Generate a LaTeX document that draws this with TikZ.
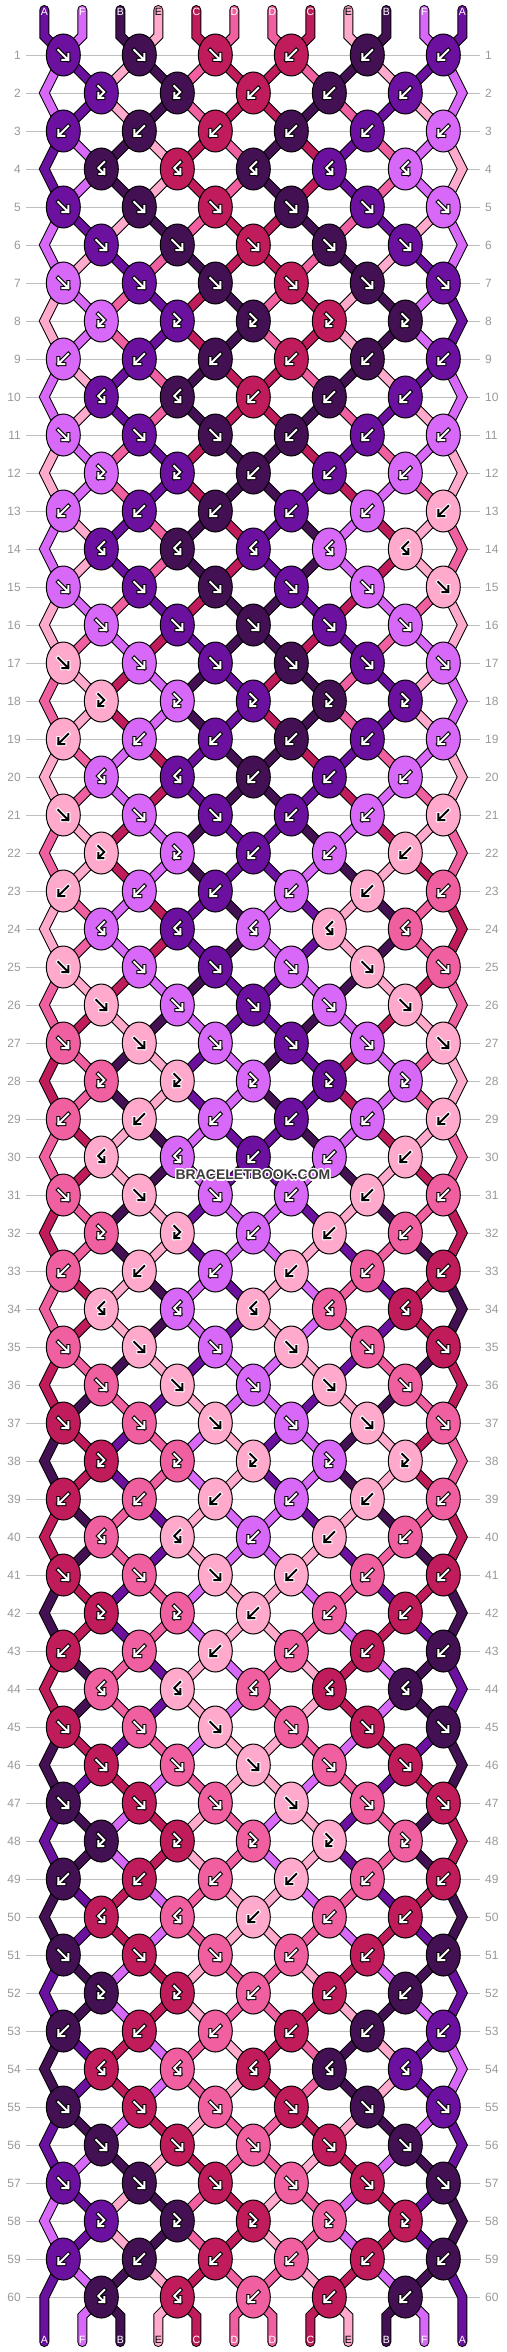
\documentclass[tikz,border=0pt]{standalone}
\usepackage{fontspec}
\setmainfont{Liberation Sans}
\usetikzlibrary{shapes.geometric}
\definecolor{cA}{HTML}{6C10A0}
\definecolor{cB}{HTML}{431153}
\definecolor{cC}{HTML}{C01C5C}
\definecolor{cD}{HTML}{F060A0}
\definecolor{cE}{HTML}{FFAACC}
\definecolor{cF}{HTML}{D868F8}
\definecolor{numgray}{HTML}{999999}
\definecolor{linegray}{HTML}{BEBEBE}
\definecolor{markgray}{HTML}{3C3C3C}

% ---------- simulation of the knots ----------
\newcount\bkR \newcount\bkP \newcount\bkK \newcount\bkT \newcount\bkM
\newcount\bkL \newcount\bkRp \newcount\bkPrev
\def\bkgetS#1#2{\csname bkst#1-#2\endcsname}
\def\bksetS#1#2#3{\expandafter\xdef\csname bkst#1-#2\endcsname{#3}}
\def\bkktype#1#2{\ifcase#1 \ifnum#2<4 F\else B\fi\or\ifnum#2<3 FB\else B\fi\or B\or BF\or F\or F\or F\or FB\or B\or\ifnum#2<3 BF\else B\fi\fi}
\def\bkcopyloop{%
  \bksetS{\the\bkR}{\the\bkP}{\bkgetS{\the\bkPrev}{\the\bkP}}%
  \advance\bkP 1
  \ifnum\bkP<13 \expandafter\bkcopyloop\fi}
\def\bkTF{F}\def\bkTB{B}\def\bkTFB{FB}\def\bkTBF{BF}
\def\bksetK#1{\expandafter\xdef\csname bkkc\the\bkR-\the\bkK\endcsname{#1}}
\def\bkswap{\bksetS{\the\bkR}{\the\bkL}{\bkRc}\bksetS{\the\bkR}{\the\bkRp}{\bkLc}}
\def\bkknotloop{%
  \ifodd\bkR \bkL=\bkK \multiply\bkL 2 \advance\bkL -1 \else \bkL=\bkK \multiply\bkL 2 \fi
  \bkRp=\bkL \advance\bkRp 1
  \edef\bkKt{\bkktype{\the\bkT}{\the\bkK}}%
  \edef\bkLc{\bkgetS{\the\bkR}{\the\bkL}}%
  \edef\bkRc{\bkgetS{\the\bkR}{\the\bkRp}}%
  \ifx\bkKt\bkTF \bksetK{\bkLc}\bkswap\fi
  \ifx\bkKt\bkTB \bksetK{\bkRc}\bkswap\fi
  \ifx\bkKt\bkTFB \bksetK{\bkLc}\fi
  \ifx\bkKt\bkTBF \bksetK{\bkRc}\fi
  \expandafter\xdef\csname bkkt\the\bkR-\the\bkK\endcsname{\bkKt}%
  \advance\bkK 1
  \ifnum\bkK>\bkNK\relax\else\expandafter\bkknotloop\fi}
\def\bkrowloop{%
  \bkPrev=\bkR \advance\bkPrev -1
  \bkP=1 \bkcopyloop
  \bkT=\bkR \advance\bkT -1
  \bkM=\bkT \divide\bkM 10 \multiply\bkM 10 \advance\bkT -\bkM
  \ifodd\bkR \def\bkNK{6}\else\def\bkNK{5}\fi
  \bkK=1 \bkknotloop
  \advance\bkR 1
  \ifnum\bkR<61 \expandafter\bkrowloop\fi}
\bksetS{0}{1}{A}\bksetS{0}{2}{F}\bksetS{0}{3}{B}\bksetS{0}{4}{E}\bksetS{0}{5}{C}\bksetS{0}{6}{D}
\bksetS{0}{7}{D}\bksetS{0}{8}{C}\bksetS{0}{9}{E}\bksetS{0}{10}{B}\bksetS{0}{11}{F}\bksetS{0}{12}{A}
\bkR=1 \bkrowloop

% offset of string p at row r relative to its own column
\def\bklocd#1#2{\ifodd#1 \ifodd#2 1\else -1\fi\else\ifnum#2=1 0\else\ifnum#2=12 0\else\ifodd#2 -1\else 1\fi\fi\fi\fi}

% ---------- icons ----------
\def\bkiconF#1{\draw[#1] (-5,-5) -- (5,5) (-1,5) -- (5,5) -- (5,-1);}
\def\bkiconB#1{\draw[#1] (5,-5) -- (-5,5) (1,5) -- (-5,5) -- (-5,-1);}
\def\bkiconFB#1{\draw[#1] (-3,-7) -- (3,-1) -- (-3,5) (2,5) -- (-3,5) -- (-3,0);}
\def\bkiconBF#1{\draw[#1] (3,-7) -- (-3,-1) -- (3,5) (-2,5) -- (3,5) -- (3,0);}
\def\bkE{E}
\newcommand\bkicon[3]{%
  \edef\bkcl{#2}%
  \ifx\bkcl\bkE \def\bkfg{black}\def\bkbg{white}\else\def\bkfg{white}\def\bkbg{black}\fi
  \begin{scope}[shift={(#3.center)}]
    \csname bkicon#1\endcsname{line width=4pt,color=\bkbg,line cap=rect,line join=miter}
    \csname bkicon#1\endcsname{line width=2pt,color=\bkfg,line cap=rect,line join=miter}
  \end{scope}}

% ---------- strings ----------
\def\bkpass{0}
\newcommand\bkstr[2]{%
  \ifnum\bkpass=0 \draw[line width=10pt,color=black,line cap=round,line join=miter] #2;%
  \else \draw[line width=8pt,color=#1,line cap=round,line join=miter] #2;\fi}
\newcommand\bkallstrings{%
  \foreach \p in {1,...,12}{%
    \edef\bkcc{c\csname bkst0-\p\endcsname}%
    \bkstr{\bkcc}{(T-\p) -- (U-\p) -- (L-1-\p)}}%
  \foreach \rw in {1,...,59}{%
    \pgfmathtruncatemacro\rn{\rw+1}%
    \foreach \p in {2,...,11}{%
      \edef\bkcc{c\csname bkst\rw-\p\endcsname}%
      \bkstr{\bkcc}{(L-\rw-\p) -- (L-\rn-\p)}}}%
  \foreach \rw in {1,3,...,57}{%
    \pgfmathtruncatemacro\rn{\rw+1}\pgfmathtruncatemacro\rnn{\rw+2}%
    \foreach \p in {1,12}{%
      \edef\bkcc{c\csname bkst\rw-\p\endcsname}%
      \bkstr{\bkcc}{(L-\rw-\p) -- (L-\rn-\p) -- (L-\rnn-\p)}}}%
  \foreach \p in {1,12}{%
    \edef\bkcc{c\csname bkst59-\p\endcsname}%
    \bkstr{\bkcc}{(L-59-\p) -- (L-60-\p) -- (W-\p)}}%
  \foreach \p in {2,...,11}{%
    \edef\bkcc{c\csname bkst60-\p\endcsname}%
    \bkstr{\bkcc}{(L-60-\p) -- (V-\p) -- (W-\p)}}%
}

\begin{document}
\begin{tikzpicture}[x=1pt,y=-1pt,
  knot/.style={ellipse,draw=black,line width=1pt,minimum width=34pt,minimum height=42pt,inner sep=0pt},
  rownum/.style={text=numgray,font=\fontsize{12}{12}\selectfont,inner sep=0pt},
  gridline/.style={draw=linegray,line width=0.8pt},
  stublbl/.style={font=\fontsize{10.5}{10.5}\selectfont,inner sep=0pt},
  wm/.style={font=\bfseries\fontsize{14}{14}\selectfont,inner sep=0pt}]
\useasboundingbox (0,0) rectangle (506,2352);
\fill[white] (0,0) rectangle (506,2352);
% grid lines and row numbers
\foreach \rw in {1,...,60}{%
  \pgfmathsetmacro\yy{55+38*(\rw-1)}%
  \draw[gridline] (26,\yy) -- (480,\yy);
  \node[rownum,anchor=east] (nl-\rw) at (21,\yy) {\rw};
  \node[rownum,anchor=west] (nr-\rw) at (485,\yy) {\rw};
}
% coordinates of the strings
\foreach \p in {1,...,12}{%
  \pgfmathsetmacro\sx{44.3+38*(\p-1)}%
  \coordinate (T-\p) at (\sx,10);
  \coordinate (U-\p) at (\sx,36);
  \coordinate (V-\p) at (\sx,2316);
  \coordinate (W-\p) at (\sx,2342);
  \foreach \rw in {1,...,60}{%
    \edef\dd{\bklocd{\rw}{\p}}%
    \pgfmathsetmacro\xx{\sx+19*(\dd)}%
    \pgfmathsetmacro\yy{55+38*(\rw-1)}%
    \coordinate (L-\rw-\p) at (\xx,\yy);
  }
}
% strings: outline pass, then colour pass
\def\bkpass{0}\bkallstrings
\def\bkpass{1}\bkallstrings
% knots
\foreach \rw in {1,...,60}{%
  \ifodd\rw\relax\def\nk{6}\else\def\nk{5}\fi
  \foreach \kn in {1,...,\nk}{%
    \ifodd\rw\relax\pgfmathtruncatemacro\lp{2*\kn-1}\else\pgfmathtruncatemacro\lp{2*\kn}\fi
    \edef\kc{\csname bkkc\rw-\kn\endcsname}%
    \edef\kt{\csname bkkt\rw-\kn\endcsname}%
    \edef\kcol{c\kc}%
    \node[knot,fill=\kcol] (K-\rw-\kn) at (L-\rw-\lp) {};
    \bkicon{\kt}{\kc}{K-\rw-\kn}
  }}
% string labels
\foreach \p in {1,...,12}{%
  \pgfmathsetmacro\sx{44.3+38*(\p-1)}%
  \edef\lt{\csname bkst0-\p\endcsname}%
  \edef\lb{\csname bkst60-\p\endcsname}%
  \ifx\lt\bkE\def\tc{black}\else\def\tc{white}\fi
  \node[stublbl,text=\tc] (tl-\p) at (\sx,12.2) {\lt};
  \ifx\lb\bkE\def\tc{black}\else\def\tc{white}\fi
  \node[stublbl,text=\tc] (bl-\p) at (\sx,2339.5) {\lb};
}
% watermark
\foreach \dx/\dy [count=\i] in {-1/-1,-1/0,-1/1,0/-1,0/1,1/-1,1/0,1/1,-1.5/0,1.5/0,0/-1.5,0/1.5}{%
  \node[wm,text=white] (wmh-\i) at (253+\dx,1175+\dy) {BRACELETBOOK.COM};
}
\node[wm,text=markgray] (wm) at (253,1175) {BRACELETBOOK.COM};
\end{tikzpicture}
\end{document}
